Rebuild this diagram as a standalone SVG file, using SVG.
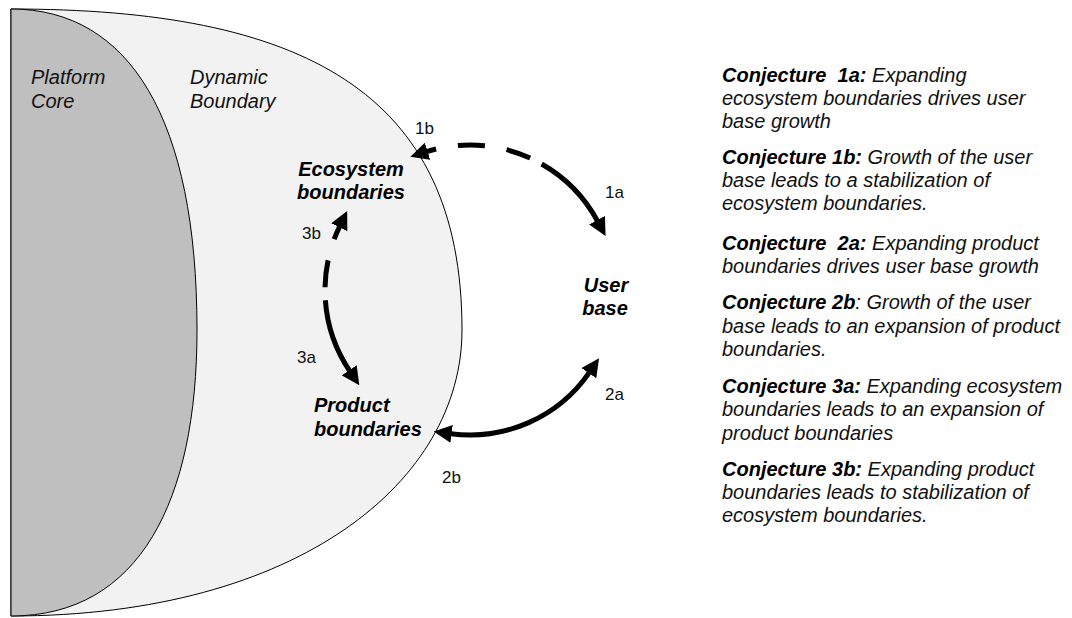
<svg xmlns="http://www.w3.org/2000/svg" width="1072" height="618" viewBox="0 0 1072 618">
<style>
text{font-family:"Liberation Sans",Arial,sans-serif;fill:#111}
.reg{font-size:20px;font-style:italic}
.pre{white-space:pre}
.node{font-size:20px;font-style:italic;font-weight:bold;fill:#000}
.num{font-size:17px}
.b{font-weight:bold;fill:#000}
.arc{fill:none;stroke:#000;stroke-width:5}
</style>
<defs>
<marker id="ah" viewBox="0 0 18 18" markerWidth="18" markerHeight="18" markerUnits="userSpaceOnUse" refX="1" refY="9" orient="auto-start-reverse">
<path d="M0,0 L18,9 L0,18 z" fill="#000"/>
</marker>
</defs>
<rect width="1072" height="618" fill="#fff"/>
<g id="dynamic-boundary">
<path d="M11,9 C300,9 462,90 462,330 C462,480 300,616 11,616 Z" fill="#f2f2f2" stroke="#000" stroke-width="1"/>
<text class="reg" x="190" y="84">Dynamic</text>
<text class="reg" x="190" y="108">Boundary</text>
</g>
<g id="platform-core">
<path d="M11,9 C130,9 197,120 197,330 C197,500 140,616 11,616 Z" fill="#bfbfbf" stroke="#000" stroke-width="1"/>
<text class="reg" x="31" y="84">Platform</text>
<text class="reg" x="31" y="108">Core</text>
</g>
<g id="ecosystem-boundaries">
<text class="node" x="351" y="176" text-anchor="middle">Ecosystem</text>
<text class="node" x="351" y="199" text-anchor="middle">boundaries</text>
</g>
<g id="product-boundaries">
<text class="node" x="314" y="412">Product</text>
<text class="node" x="314" y="436">boundaries</text>
</g>
<g id="user-base">
<text class="node" x="606" y="292" text-anchor="middle">User</text>
<text class="node" x="605" y="315" text-anchor="middle">base</text>
</g>
<g id="connectors">
<path class="arc" d="M426.6,151.6 A145,145 0 0 1 597.5,221" stroke-dasharray="10 22 27 22 25 13 300" marker-start="url(#ah)" marker-end="url(#ah)"/>
<path class="arc" d="M589.4,372.3 A145,145 0 0 1 450.6,433.7" marker-start="url(#ah)" marker-end="url(#ah)"/>
<path class="arc" d="M339.7,226.4 A145,145 0 0 0 349.8,371.1" stroke-dasharray="14 22 27 13 300" marker-start="url(#ah)" marker-end="url(#ah)"/>
<text class="num" x="415" y="134">1b</text>
<text class="num" x="605" y="198">1a</text>
<text class="num" x="605" y="400">2a</text>
<text class="num" x="442" y="483">2b</text>
<text class="num" x="302" y="239">3b</text>
<text class="num" x="297" y="363">3a</text>
</g>
<g id="conjectures">
<text class="reg pre" x="722" y="82"><tspan class="b">Conjecture  1a:</tspan> Expanding</text>
<text class="reg" x="722" y="105">ecosystem boundaries drives user</text>
<text class="reg" x="722" y="128">base growth</text>
<text class="reg pre" x="722" y="164"><tspan class="b">Conjecture 1b:</tspan> Growth of the user</text>
<text class="reg" x="722" y="187">base leads to a stabilization of</text>
<text class="reg" x="722" y="210">ecosystem boundaries.</text>
<text class="reg pre" x="722" y="250"><tspan class="b">Conjecture  2a:</tspan> Expanding product</text>
<text class="reg" x="722" y="273">boundaries drives user base growth</text>
<text class="reg pre" x="722" y="309"><tspan class="b">Conjecture 2b</tspan>: Growth of the user</text>
<text class="reg" x="722" y="333">base leads to an expansion of product</text>
<text class="reg" x="722" y="356">boundaries.</text>
<text class="reg pre" x="722" y="393"><tspan class="b">Conjecture 3a:</tspan> Expanding ecosystem</text>
<text class="reg" x="722" y="416">boundaries leads to an expansion of</text>
<text class="reg" x="722" y="440">product boundaries</text>
<text class="reg pre" x="722" y="476"><tspan class="b">Conjecture 3b:</tspan> Expanding product</text>
<text class="reg" x="722" y="499">boundaries leads to stabilization of</text>
<text class="reg" x="722" y="522">ecosystem boundaries.</text>
</g>
</svg>
